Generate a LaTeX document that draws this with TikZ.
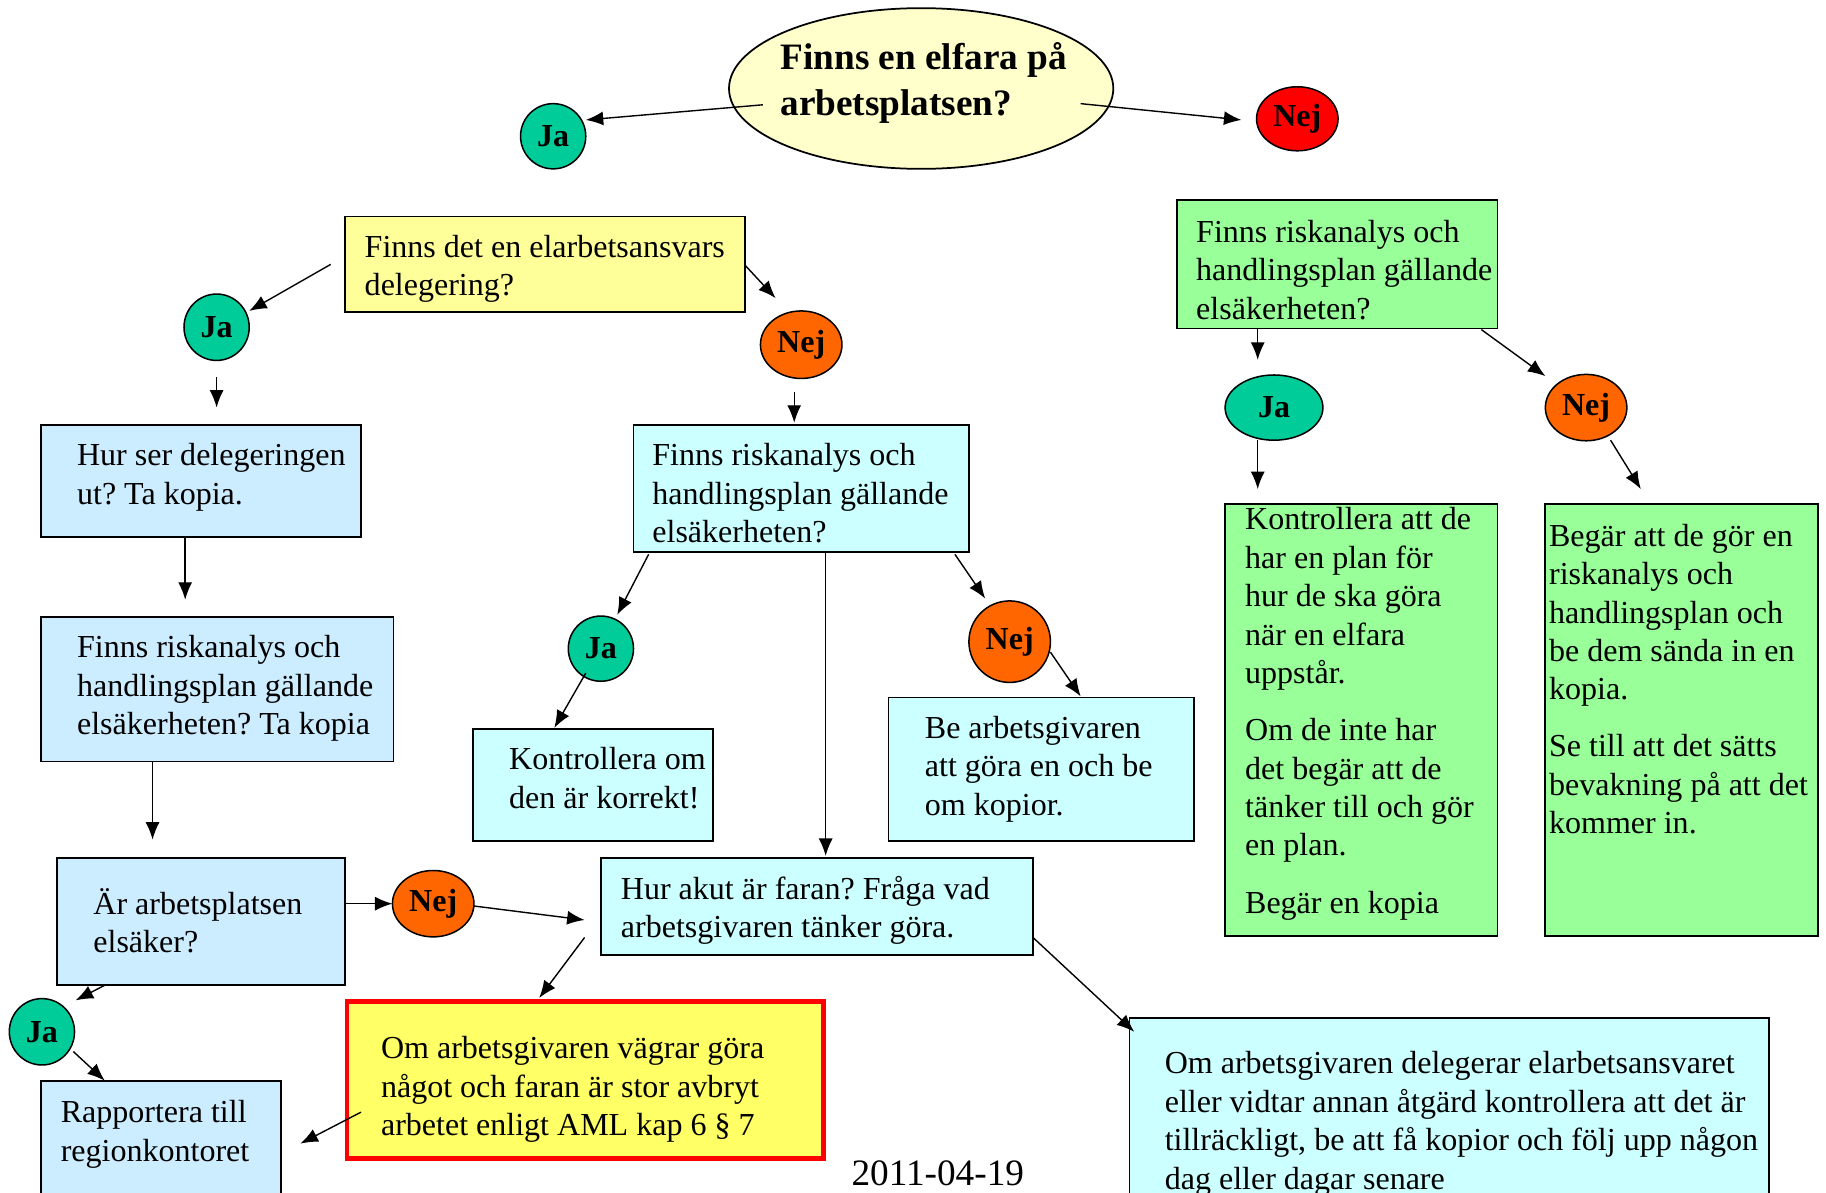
\documentclass[tikz,border=0pt]{standalone}
\usepackage{fontspec}
\setmainfont{Liberation Serif}
\usetikzlibrary{arrows.meta,calc,shapes.geometric}
\definecolor{ellfill}{HTML}{FFFFCC}
\definecolor{jafill}{HTML}{00CC99}
\definecolor{nejred}{HTML}{FF0000}
\definecolor{nejor}{HTML}{FF6600}
\definecolor{yelbox}{HTML}{FFFF99}
\definecolor{bluebox}{HTML}{CCECFF}
\definecolor{cyanbox}{HTML}{CCFFFF}
\definecolor{greenbox}{HTML}{99FF99}
\definecolor{redfill}{HTML}{FFFF66}
\newcommand\mylns[1]{\begin{tabular}[t]{@{}l@{}}#1\end{tabular}}
\frenchspacing
\begin{document}
\begin{tikzpicture}[x=1pt,y=-1pt,
  box/.style={draw=black, line width=1.5pt, anchor=north west, inner sep=0pt, outer sep=0pt},
  txt/.style={anchor=base west, inner sep=0pt, font=\fontsize{27.5}{33}\selectfont},
  circ/.style={ellipse, draw=black, line width=1.3pt, inner sep=0pt, outer sep=0pt, font=\bfseries\fontsize{27.5}{33}\selectfont},
  arr/.style={-{Latex[length=15pt,width=12pt]}, line width=1.2pt}]
\useasboundingbox (0,0) rectangle (1568,1024);
\begin{scope}
\clip (0,0) rectangle (1568,1024);
% title
\node[ellipse, draw=black, line width=1.5pt, fill=ellfill, minimum width=330pt, minimum height=138pt, inner sep=0pt] (q) at (791,76) {};
\node[anchor=base west, inner sep=0pt, font=\bfseries\fontsize{32}{39}\selectfont] (qt) at (670,60) {\mylns{Finns en elfara på\\arbetsplatsen?}};
\node[circ, fill=jafill, minimum width=56pt, minimum height=56pt] (ja1) at (475,117) {Ja};
\node[circ, fill=nejred, minimum width=70pt, minimum height=55pt] (nej1) at (1114,102) {Nej};
% left branch
\node[box, fill=yelbox, minimum width=344pt, minimum height=82pt] (deleg) at (296,186) {};
\node[txt] (delegt) at (313,221) {\mylns{Finns det en elarbetsansvars\\delegering?}};
\node[circ, fill=jafill, minimum width=56pt, minimum height=57pt] (ja2) at (186,281) {Ja};
\node[circ, fill=nejor, minimum width=70pt, minimum height=58pt] (nej2) at (688,296) {Nej};
\node[box, fill=bluebox, minimum width=275pt, minimum height=96pt] (hur) at (35,365) {};
\node[txt] (hurt) at (66,400) {\mylns{Hur ser delegeringen\\ut? Ta kopia.}};
\node[box, fill=cyanbox, minimum width=288pt, minimum height=109pt] (riskc) at (544,365) {};
\node[txt] (riskct) at (560,400) {\mylns{Finns riskanalys och\\handlingsplan gällande\\elsäkerheten?}};
\node[box, fill=bluebox, minimum width=303pt, minimum height=124pt] (risk1) at (35,530) {};
\node[txt] (risk1t) at (66,565) {\mylns{Finns riskanalys och\\handlingsplan gällande\\elsäkerheten? Ta kopia}};
\node[box, fill=bluebox, minimum width=247pt, minimum height=109pt] (ar) at (49,737) {};
\node[txt] (art) at (80,785) {\mylns{Är arbetsplatsen\\elsäker?}};
\node[circ, fill=jafill, minimum width=56pt, minimum height=56pt] (ja3) at (516,557) {Ja};
\node[box, fill=cyanbox, minimum width=206pt, minimum height=96pt] (kontr) at (406,626) {};
\node[txt] (kontrt) at (437,661) {\mylns{Kontrollera om\\den är korrekt!}};
\node[box, fill=cyanbox, minimum width=371pt, minimum height=83pt] (akut) at (516,737) {};
\node[txt] (akutt) at (533,772) {\mylns{Hur akut är faran? Fråga vad\\arbetsgivaren tänker göra.}};
\node[circ, fill=nejor, minimum width=70pt, minimum height=70pt] (nej3) at (867,551) {Nej};
\node[box, fill=cyanbox, minimum width=262pt, minimum height=123pt] (be) at (763,599) {};
\node[txt] (bet) at (794,634) {\mylns{Be arbetsgivaren\\att göra en och be\\om kopior.}};
\node[circ, fill=nejor, minimum width=70pt, minimum height=57pt] (nej4) at (372,776) {Nej};
\node[box, draw=nejred, line width=4pt, fill=redfill, minimum width=409pt, minimum height=135pt] (red) at (298,860) {};
\node[txt] (redt) at (327,909) {\mylns{Om arbetsgivaren vägrar göra\\något och faran är stor avbryt\\arbetet enligt AML kap 6 § 7}};
\node[box, fill=cyanbox, minimum width=549pt, minimum height=170pt] (big) at (970,874) {};
\node[txt] (bigt) at (1000,922) {\mylns{Om arbetsgivaren delegerar elarbetsansvaret\\eller vidtar annan åtgärd kontrollera att det är\\tillräckligt, be att få kopior och följ upp någon\\dag eller dagar senare}};
\node[circ, fill=jafill, minimum width=56pt, minimum height=57pt] (ja5) at (36,886) {Ja};
\node[box, fill=bluebox, minimum width=206pt, minimum height=120pt] (rapp) at (35,928) {};
\node[txt] (rappt) at (52,964) {\mylns{Rapportera till\\regionkontoret}};
% right branch
\node[box, fill=greenbox, minimum width=275pt, minimum height=110pt] (greenq) at (1011,172) {};
\node[txt] (greenqt) at (1027,208) {\mylns{Finns riskanalys och\\handlingsplan gällande\\elsäkerheten?}};
\node[circ, fill=jafill, minimum width=84pt, minimum height=56pt] (ja6) at (1094,350) {Ja};
\node[circ, fill=nejor, minimum width=70pt, minimum height=57pt] (nej6) at (1362,350) {Nej};
\node[box, fill=greenbox, minimum width=234pt, minimum height=371pt] (kontr2) at (1052,433) {};
\node[txt] (kontr2t) at (1069,455) {\mylns{Kontrollera att de\\har en plan för\\hur de ska göra\\när en elfara\\uppstår.\\[16pt]Om de inte har\\det begär att de\\tänker till och gör\\en plan.\\[16pt]Begär en kopia}};
\node[box, fill=greenbox, minimum width=234pt, minimum height=371pt] (beg) at (1327,433) {};
\node[txt] (begt) at (1330,469) {\mylns{Begär att de gör en\\riskanalys och\\handlingsplan och\\be dem sända in en\\kopia.\\[16pt]Se till att det sätts\\bevakning på att det\\kommer in.}};
\node[anchor=base west, inner sep=0pt, font=\fontsize{32}{38}\selectfont] (date) at (731,1018) {2011-04-19};
% connectors
\draw[arr] ($(q.center)+(-136,14)$) -- ($(ja1.center)+(28,-14)$);
\draw[arr] ($(q.center)+(137,13)$) -- ($(nej1.center)+(-48,1)$);
\draw[arr] ($(deleg.north west)+(-12,41)$) -- ($(ja2.center)+(28,-14)$);
\draw[arr] ($(deleg.north east)+(0,42)$) -- ($(nej2.center)+(-22,-40)$);
\draw[arr] ($(ja2.center)+(0,43)$) -- ($(hur.north west)+(151,-15)$);
\draw[arr] ($(nej2.center)+(-6,41)$) -- ($(riskc.north west)+(138,-2)$);
\draw[arr] ($(hur.south west)+(124,0)$) -- ($(risk1.north west)+(124,-15)$);
\draw[arr] ($(risk1.south west)+(96,0)$) -- ($(ar.north west)+(82,-16)$);
\draw[arr] ($(riskc.south west)+(13,2)$) -- ($(ja3.center)+(14,-29)$);
\draw[arr] ($(ja3.center)+(-13,21)$) -- ($(kontr.north west)+(70,-1)$);
\draw[arr] ($(riskc.south west)+(165,0)$) -- ($(akut.north west)+(193,-2)$);
\draw[arr] ($(riskc.south east)+(-12,2)$) -- ($(nej3.center)+(-21,-37)$);
\draw[arr] ($(nej3.center)+(35,9)$) -- ($(be.north west)+(165,-1)$);
\draw[arr] ($(ar.north east)+(0,39)$) -- (nej4.west);
\draw[arr] ($(nej4.center)+(35,2)$) -- ($(akut.north west)+(-14,53)$);
\draw[arr] ($(akut.north west)+(-14,68)$) -- ($(red.north west)+(165,-3)$);
\draw[arr] ($(akut.north east)+(0,68)$) -- ($(big.north west)+(4,12)$);
\draw[arr] ($(ar.south west)+(41,0)$) -- ($(ja5.center)+(29,-27)$);
\draw[arr] ($(ja5.center)+(27,17)$) -- ($(rapp.north west)+(55,0)$);
\draw[arr] ($(red.north west)+(12,95)$) -- ($(rapp.north east)+(17,54)$);
\draw[arr] ($(greenq.south west)+(69,0)$) -- ($(ja6.center)+(-14,-41)$);
\draw[arr] ($(ja6.center)+(-14,28)$) -- ($(kontr2.north west)+(28,-13)$);
\draw[arr] ($(greenq.south east)+(-14,1)$) -- ($(nej6.center)+(-35,-27)$);
\draw[arr] ($(nej6.center)+(21,28)$) -- ($(beg.north west)+(82,-13)$);
\end{scope}
\end{tikzpicture}
\end{document}
